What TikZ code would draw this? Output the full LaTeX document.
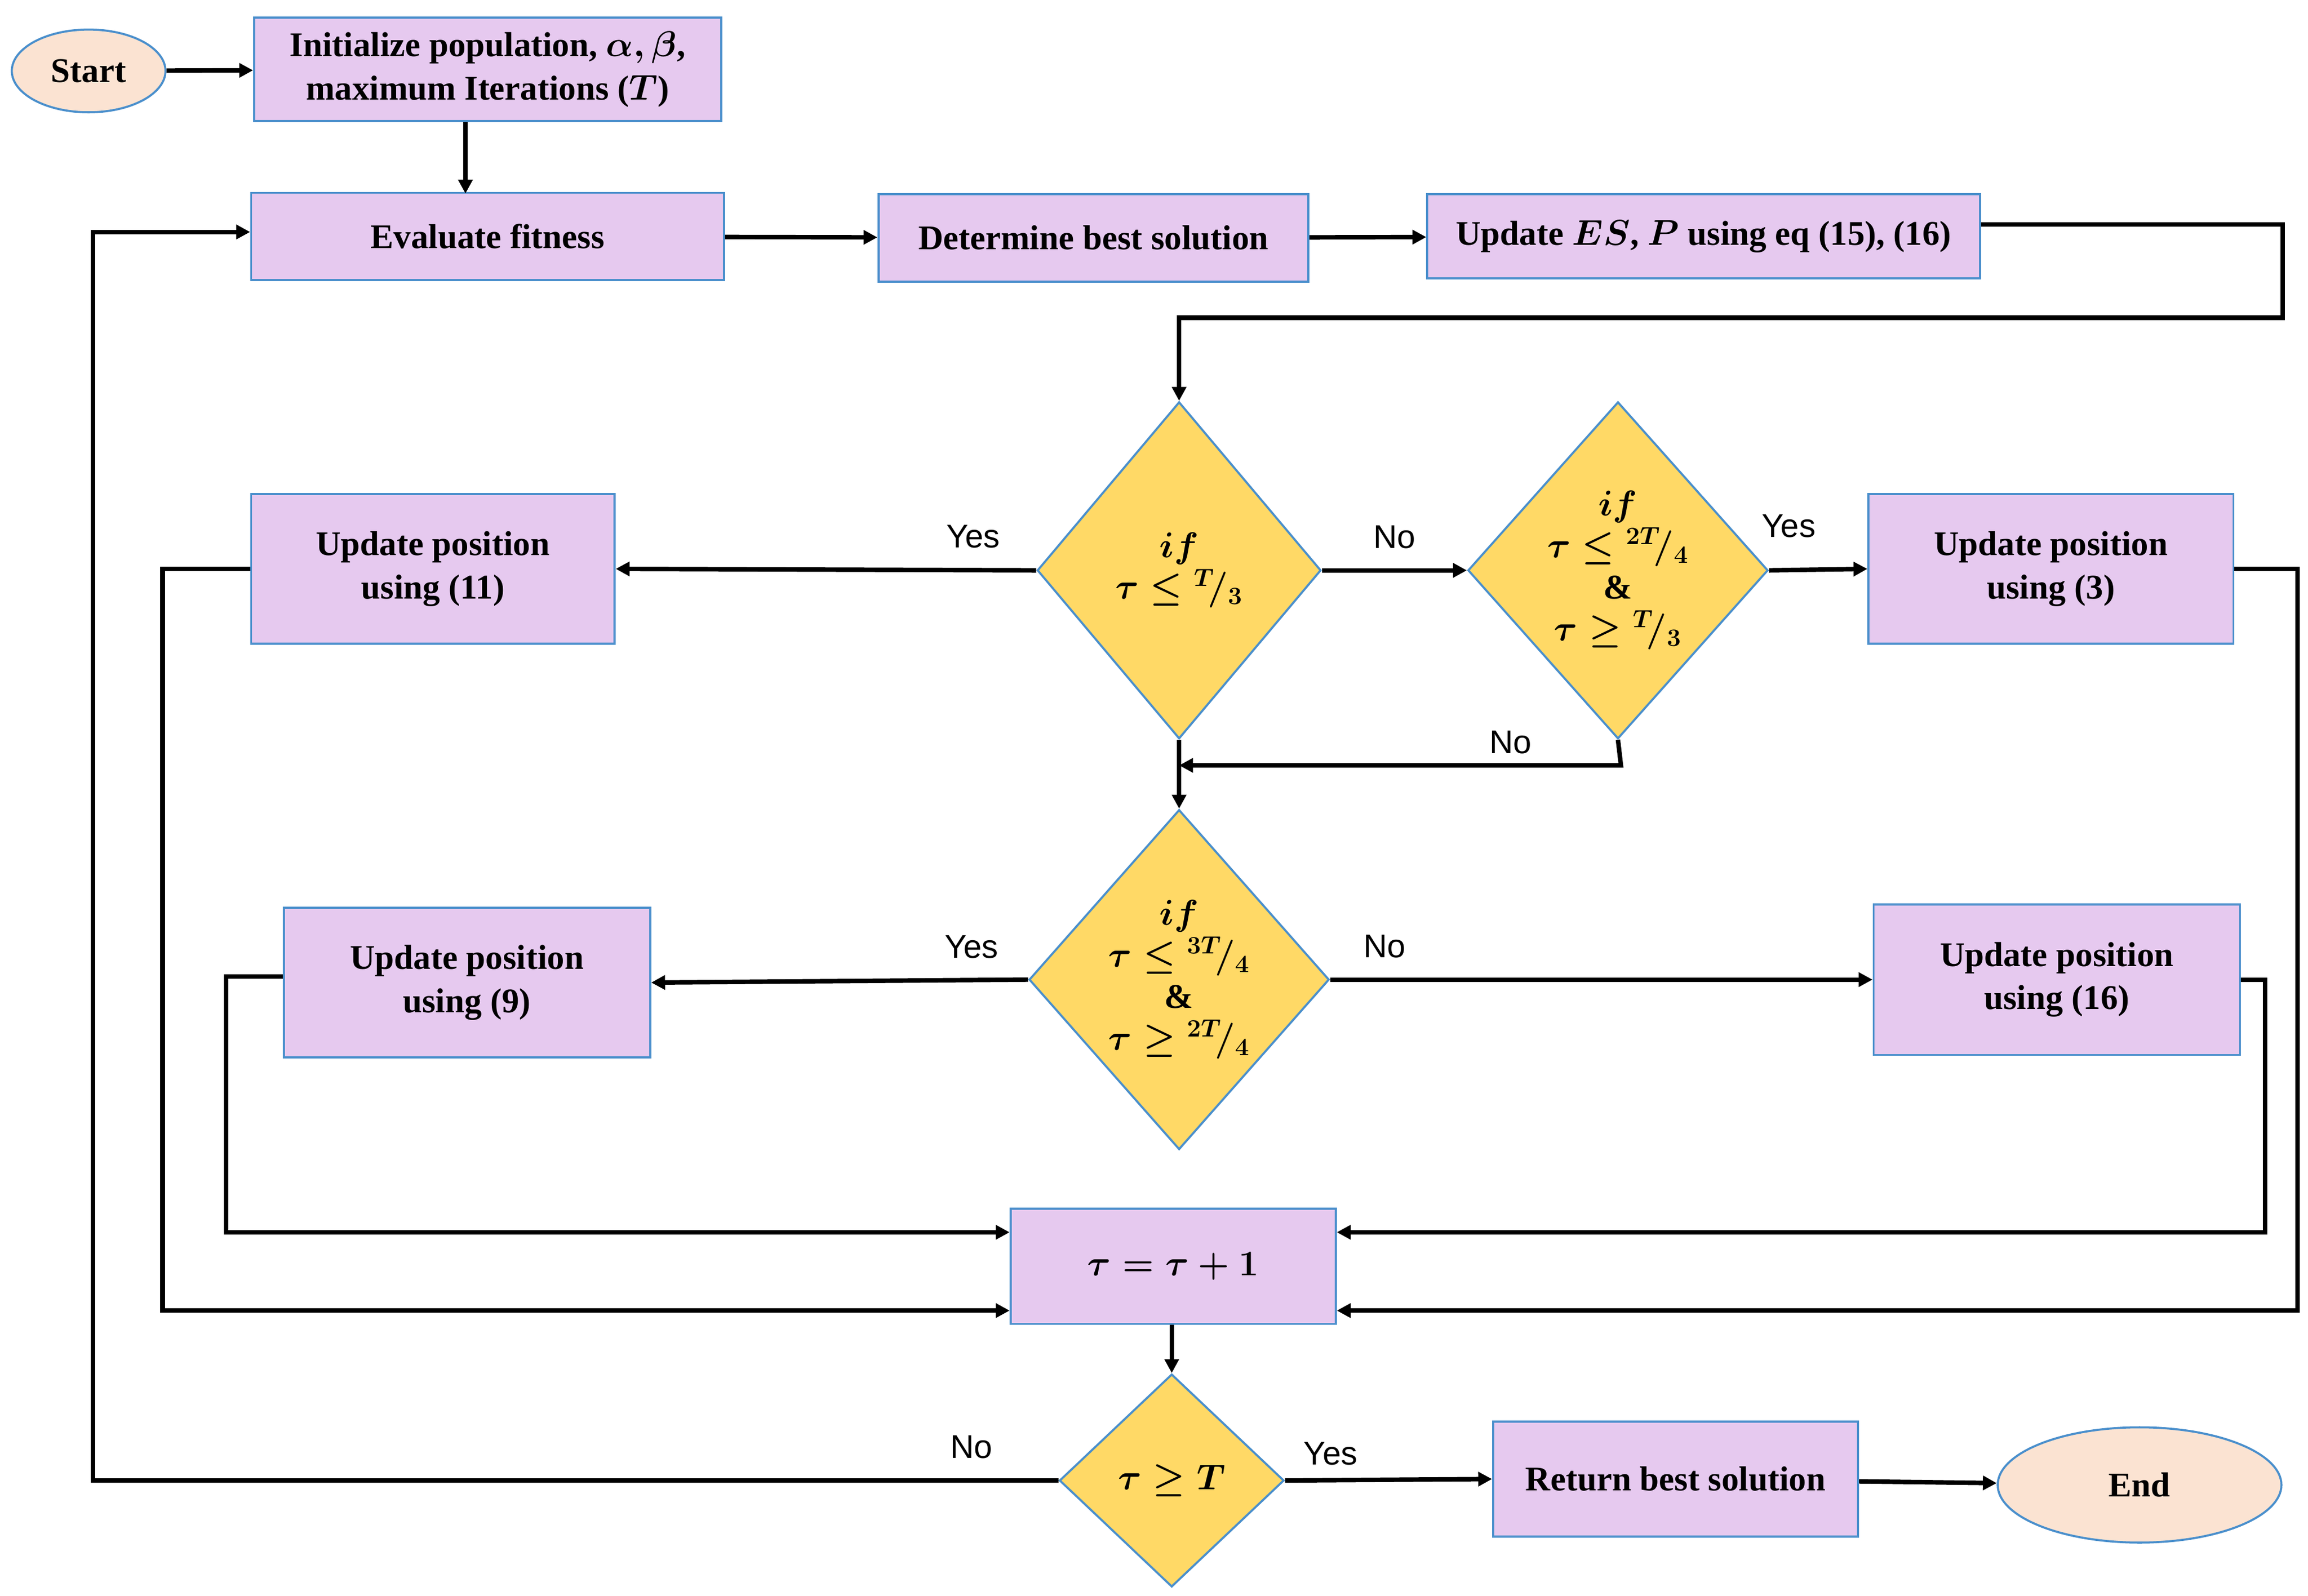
\documentclass[tikz,border=0pt]{standalone}
\usepackage{fontspec}
\setmainfont{Liberation Serif}
\newfontfamily\sansf{Liberation Sans}
\usetikzlibrary{shapes.geometric,arrows.meta}
\definecolor{boxfill}{HTML}{E6C9EF}
\definecolor{boxline}{HTML}{4A8FCC}
\definecolor{dfill}{HTML}{FFD966}
\definecolor{efill}{HTML}{FBE3D2}
\begin{document}
\boldmath
\begin{tikzpicture}[x=0.03cm,y=-0.03cm,
  box/.style={draw=boxline,fill=boxfill,line width=1.2pt,inner sep=0pt,align=center,font=\fontsize{20}{25}\selectfont\bfseries},
  dia/.style={diamond,draw=boxline,fill=dfill,line width=1.2pt,inner sep=0pt,align=center,font=\fontsize{20}{24}\selectfont\bfseries},
  ell/.style={ellipse,draw=boxline,fill=efill,line width=1.2pt,inner sep=0pt,font=\fontsize{20}{25}\selectfont\bfseries},
  arr/.style={line width=2.6pt,-{Triangle[length=8pt,width=8pt]}},
  lab/.style={font=\fontsize{19}{22}\selectfont\sansf}]
\useasboundingbox (0,0) rectangle (1562,1080);
\node[ell,minimum width=3.12cm,minimum height=1.68cm] (start) at (60,48) {Start};
\node[box,minimum width=9.48cm,minimum height=2.1cm] (init) at (330,47) {Initialize population, $\alpha,\beta$,\\maximum Iterations ($T$)};
\node[box,minimum width=9.6cm,minimum height=1.77cm] (eval) at (330,160) {Evaluate fitness};
\node[box,minimum width=8.73cm,minimum height=1.77cm] (det) at (740,161) {Determine best solution};
\node[box,minimum width=11.22cm,minimum height=1.71cm] (ues) at (1153,160) {Update $ES$, $P$ using eq (15), (16)};
\node[dia,minimum width=5.76cm,minimum height=6.84cm] (d1) at (798,386) {$if$\\$\tau\le{}^{T}\!/_{3}$};
\node[dia,minimum width=5.76cm,minimum height=6.84cm] (d2) at (1095,386) {$if$\\$\tau\le{}^{2T}\!/_{4}$\\\&\\$\tau\ge{}^{T}\!/_{3}$};
\node[box,minimum width=7.38cm,minimum height=3.03cm] (u11) at (293,385) {Update position\\using (11)};
\node[box,minimum width=7.41cm,minimum height=3.03cm] (u3) at (1388,385) {Update position\\using (3)};
\node[dia,minimum width=5.76cm,minimum height=6.9cm] (d3) at (798,663) {$if$\\$\tau\le{}^{3T}\!/_{4}$\\\&\\$\tau\ge{}^{2T}\!/_{4}$};
\node[box,minimum width=7.44cm,minimum height=3.03cm] (u9) at (316,665) {Update position\\using (9)};
\node[box,minimum width=7.44cm,minimum height=3.06cm] (u16) at (1392,663) {Update position\\using (16)};
\node[box,minimum width=6.6cm,minimum height=2.34cm] (tau) at (794,857) {$\tau=\tau+1$};
\node[dia,minimum width=4.56cm,minimum height=4.32cm] (d4) at (793,1002) {$\tau\ge T$};
\node[box,minimum width=7.41cm,minimum height=2.34cm] (ret) at (1134,1001) {Return best solution};
\node[ell,minimum width=5.76cm,minimum height=2.34cm] (end) at (1448,1005) {End};
\coordinate (c1) at (1545,152); \coordinate (c2) at (1545,215); \coordinate (c3) at (798,215);
\coordinate (i1) at (315,131);
\draw[arr] (start) -- (init);
\draw[arr] (init.south -| i1) -- (i1);
\draw[arr] (eval) -- (det);
\draw[arr] (det) -- (ues);
\draw[arr] (ues.east |- c1) -- (c1) -- (c2) -- (c3) -- (d1.north);
\draw[arr] (d1.west) -- (u11.east) node[lab,pos=0.15,above=8pt] {Yes};
\draw[arr] (d1.east) -- (d2.west) node[lab,midway,above=8pt] {No};
\draw[arr] (d2.east) -- (u3.west) node[lab,pos=0.2,above=14pt] {Yes};
\coordinate (c4) at (1097,518);
\draw[arr] (d2.south) -- (c4) -- (d1.south |- c4) node[lab,pos=0.25,above=2pt] {No};
\draw[arr] (d1.south) -- (d3.north);
\draw[arr] (d3.west) -- (u9.east) node[lab,pos=0.15,above=8pt] {Yes};
\draw[arr] (d3.east) -- (u16.west) node[lab,pos=0.1,above=8pt] {No};
\coordinate (a1) at (110,385); \coordinate (a2) at (110,887);
\draw[arr] (u11.west) -- (a1) -- (a2) -- (tau.west |- a2);
\coordinate (b1) at (1555,385); \coordinate (b2) at (1555,887);
\draw[arr] (u3.east) -- (b1) -- (b2) -- (tau.east |- b2);
\coordinate (e1) at (153,661); \coordinate (e2) at (153,834);
\draw[arr] (u9.west |- e1) -- (e1) -- (e2) -- (tau.west |- e2);
\coordinate (f1) at (1533,663); \coordinate (f2) at (1533,834);
\draw[arr] (u16.east |- f1) -- (f1) -- (f2) -- (tau.east |- f2);
\draw[arr] (tau.south -| d4.north) -- (d4.north);
\coordinate (g1) at (63,1002); \coordinate (g2) at (63,157);
\draw[arr] (d4.west) -- (g1) node[lab,pos=0.09,above=8pt] {No} -- (g2) -- (eval.west |- g2);
\draw[arr] (d4.east) -- (ret.west) node[lab,pos=0.22,above=4pt] {Yes};
\draw[arr] (ret) -- (end);
\end{tikzpicture}
\end{document}
